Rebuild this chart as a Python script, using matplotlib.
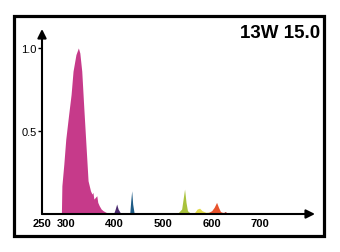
import matplotlib.pyplot as plt
from matplotlib.patches import Rectangle

# Spectrum (wavelength nm, relative intensity)
wavelengths = [290, 291, 295, 299, 305, 310, 314, 320, 325, 328, 332, 336, 340, 345,
               350, 353, 355, 357, 360, 363, 365, 368, 372, 376, 382, 390, 398,
               401, 404, 407, 412, 420, 431, 433, 435, 437, 440, 445, 480, 530,
               538, 541, 544, 547, 550, 556, 565, 570, 575, 580, 588, 595,
               600, 605, 610, 614, 618, 622, 625, 628, 632, 640, 700, 720]
intensity = [0, 0.17, 0.30, 0.45, 0.60, 0.72, 0.86, 0.96, 1.0, 0.97, 0.86, 0.65, 0.45, 0.20,
             0.14, 0.12, 0.13, 0.09, 0.10, 0.11, 0.07, 0.05, 0.03, 0.02, 0.01, 0.005, 0.005,
             0.03, 0.06, 0.03, 0.005, 0.003, 0.005, 0.08, 0.14, 0.06, 0.005, 0.004, 0.004, 0.005,
             0.03, 0.09, 0.15, 0.07, 0.02, 0.005, 0.01, 0.03, 0.035, 0.02, 0.01, 0.012,
             0.02, 0.04, 0.07, 0.04, 0.015, 0.01, 0.01, 0.015, 0.005, 0.004, 0.004, 0]

# colour bands along the spectrum
band_edges = [(290, 398), (398, 420), (420, 445), (445, 530), (530, 560),
              (560, 595), (595, 625), (625, 720)]
band_colors = ['#c63a8a', '#4b2a6e', '#1e5b85', '#3a3060', '#a9c23c',
               '#e2dc4a', '#e8532c', '#b0302a']

xtick_vals = [250, 300, 400, 500, 600, 700]
ytick_vals = [0.5, 1.0]
titulo = "13W 15.0"

W, H = 340, 253
fig = plt.figure(figsize=(W / 100, H / 100), dpi=100)
plt.rcParams['font.family'] = ['Liberation Sans', 'DejaVu Sans']

# marco negro exterior
fig.patches.append(Rectangle((14 / W, (H - 237) / H), 310 / W, 220 / H,
                             transform=fig.transFigure, fill=False,
                             edgecolor='black', linewidth=2.3))

ax = fig.add_axes([42 / W, (H - 215) / H, (315 - 42) / W, (215 - 30) / H])
ax.set_xlim(250, 813)
ax.set_ylim(0, 1.114)
for s in ax.spines.values():
    s.set_visible(False)

for (lo, hi), c in zip(band_edges, band_colors):
    mask = [lo <= w <= hi for w in wavelengths]
    ax.fill_between(wavelengths, 0, intensity, where=mask, color=c,
                    linewidth=0, interpolate=True)

# ejes con flechas
arrow = dict(arrowstyle='-|>', color='black', lw=1.5, mutation_scale=13,
             shrinkA=0, shrinkB=0)
ax.annotate('', xy=(813, 0), xytext=(250, 0), arrowprops=arrow, annotation_clip=False)
ax.annotate('', xy=(250, 1.114), xytext=(250, 0), arrowprops=arrow, annotation_clip=False)

ax.set_xticks(xtick_vals)
ax.set_xticklabels([str(v) for v in xtick_vals], fontsize=8, fontweight='bold')
ax.tick_params(axis='x', length=0, pad=3)
ax.set_yticks(ytick_vals)
ax.set_yticklabels(['0.5', '1.0'], fontsize=8)
ax.tick_params(axis='y', length=3, width=1, pad=1)

fig.text(320 / W, (H - 38) / H, titulo, ha='right', va='baseline',
         fontsize=13.5, fontweight='bold')

fig.savefig('out.png', dpi=100)
